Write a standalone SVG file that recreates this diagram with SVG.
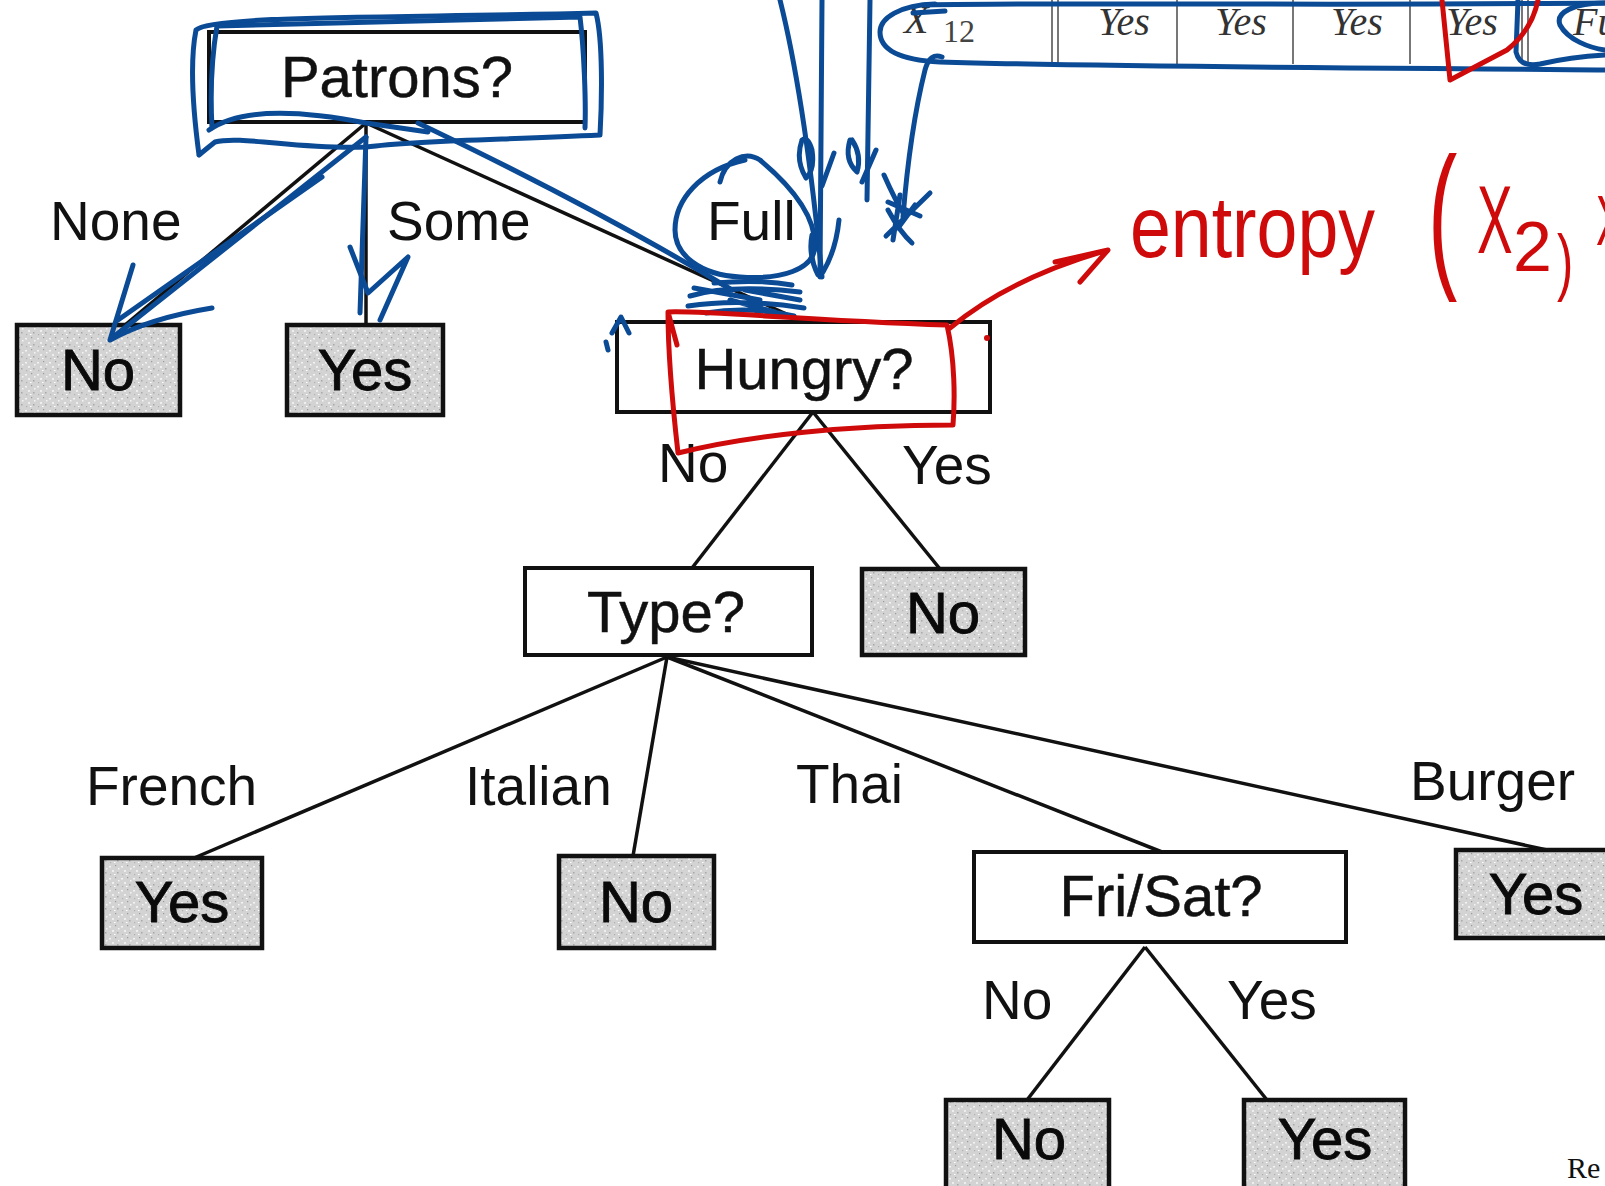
<svg xmlns="http://www.w3.org/2000/svg" width="1605" height="1186" viewBox="0 0 1605 1186">
<defs>
<pattern id="speckle" width="12" height="12" patternUnits="userSpaceOnUse">
<rect width="12" height="12" fill="#d3d3d3"/>
<rect x="1" y="2" width="2" height="1.5" fill="#f3f3f3"/>
<rect x="7" y="1" width="1.2" height="1.2" fill="#9a9a9a"/>
<rect x="4" y="6" width="2" height="2" fill="#eeeeee"/>
<rect x="9" y="8" width="1.5" height="1.5" fill="#a8a8a8"/>
<rect x="2" y="10" width="1.2" height="1.2" fill="#b0b0b0"/>
<rect x="10" y="4" width="1.5" height="1.5" fill="#f5f5f5"/>
<rect x="6" y="10" width="1.5" height="1" fill="#ffffff"/>
</pattern>
<style>
.box{fill:#fff;stroke:#111;stroke-width:4}
.leaf{fill:url(#speckle);stroke:#111;stroke-width:4.5}
.t{font-family:"Liberation Sans",Arial,sans-serif;font-size:58px;fill:#111;text-anchor:middle;stroke:#111;stroke-width:0.5}
.lt{font-family:"Liberation Sans",Arial,sans-serif;font-size:58px;fill:#0a0a0a;text-anchor:middle;stroke:#0a0a0a;stroke-width:0.9}
.lbl{font-family:"Liberation Sans",Arial,sans-serif;font-size:55px;fill:#111}
.edge{stroke:#111;stroke-width:3.5;fill:none}
.tl{stroke:#555;stroke-width:1.6}
.tbl{font-family:"Liberation Serif","Times New Roman",serif;font-style:italic;font-size:40px;fill:#333}
.blue{stroke:#0b4a95;stroke-width:5;fill:none;stroke-linecap:round;stroke-linejoin:round}
.red{stroke:#cf0a0a;stroke-width:5;fill:none;stroke-linecap:round;stroke-linejoin:round}
.hand{font-family:"Liberation Sans",Arial,sans-serif;fill:#cf0a0a}
</style>
</defs>
<rect width="1605" height="1186" fill="#fff"/>

<g id="table-row">
<line class="tl" x1="1052" y1="0" x2="1052" y2="64"/>
<line class="tl" x1="1058" y1="0" x2="1058" y2="64"/>
<line class="tl" x1="1177" y1="0" x2="1177" y2="64"/>
<line class="tl" x1="1293" y1="0" x2="1293" y2="64"/>
<line class="tl" x1="1410" y1="0" x2="1410" y2="64"/>
<line class="tl" x1="1522" y1="0" x2="1522" y2="64"/>
<line class="tl" x1="1528" y1="0" x2="1528" y2="64"/>
<text class="tbl" x="904" y="33" font-size="48">X</text>
<text x="943" y="42" font-family="Liberation Serif, Times New Roman, serif" font-size="32" fill="#444">12</text>
<text class="tbl" x="1098" y="35">Yes</text>
<text class="tbl" x="1215" y="35">Yes</text>
<text class="tbl" x="1331" y="35">Yes</text>
<text class="tbl" x="1446" y="35">Yes</text>
<text class="tbl" x="1573" y="35">Fu</text>
</g>

<g id="connectors">
<line class="edge" x1="366" y1="123" x2="125" y2="325"/>
<line class="edge" x1="366" y1="123" x2="366" y2="325"/>
<line class="edge" x1="366" y1="123" x2="804" y2="322"/>
<line class="edge" x1="813" y1="412" x2="692" y2="568"/>
<line class="edge" x1="813" y1="412" x2="940" y2="569"/>
<line class="edge" x1="667" y1="657" x2="194" y2="858"/>
<line class="edge" x1="667" y1="657" x2="633" y2="856"/>
<line class="edge" x1="667" y1="657" x2="1162" y2="852"/>
<line class="edge" x1="667" y1="657" x2="1547" y2="850"/>
<line class="edge" x1="1145" y1="947" x2="1027" y2="1100"/>
<line class="edge" x1="1145" y1="947" x2="1267" y2="1100"/>
<text class="lbl" x="50" y="240">None</text>
<text class="lbl" x="387" y="240">Some</text>
<text class="lbl" x="707" y="240">Full</text>
<text class="lbl" x="658" y="482">No</text>
<text class="lbl" x="902" y="484">Yes</text>
<text class="lbl" x="86" y="805">French</text>
<text class="lbl" x="465" y="805">Italian</text>
<text class="lbl" x="796" y="803">Thai</text>
<text class="lbl" x="1410" y="800">Burger</text>
<text class="lbl" x="982" y="1019">No</text>
<text class="lbl" x="1227" y="1019">Yes</text>
</g>

<g id="patrons"><rect class="box" x="209" y="32" width="376" height="90"/><text class="t" x="397" y="97">Patrons?</text></g>
<g id="leaf-none-no"><rect class="leaf" x="17" y="325" width="163" height="90"/><text class="lt" x="98" y="390">No</text></g>
<g id="leaf-some-yes"><rect class="leaf" x="287" y="325" width="156" height="90"/><text class="lt" x="365" y="390">Yes</text></g>
<g id="hungry"><rect class="box" x="617" y="322" width="373" height="90"/><text class="t" x="804" y="389">Hungry?</text></g>
<g id="type"><rect class="box" x="525" y="568" width="287" height="87"/><text class="t" x="666" y="632">Type?</text></g>
<g id="leaf-hungry-no"><rect class="leaf" x="862" y="569" width="163" height="86"/><text class="lt" x="943" y="633">No</text></g>
<g id="leaf-french-yes"><rect class="leaf" x="102" y="858" width="160" height="90"/><text class="lt" x="182" y="922">Yes</text></g>
<g id="leaf-italian-no"><rect class="leaf" x="559" y="856" width="155" height="92"/><text class="lt" x="636" y="922">No</text></g>
<g id="frisat"><rect class="box" x="974" y="852" width="372" height="90"/><text class="t" x="1161" y="916">Fri/Sat?</text></g>
<g id="leaf-burger-yes"><rect class="leaf" x="1456" y="850" width="175" height="88"/><text class="lt" x="1536" y="914">Yes</text></g>
<g id="leaf-frisat-no"><rect class="leaf" x="946" y="1100" width="163" height="110"/><text class="lt" x="1029" y="1159">No</text></g>
<g id="leaf-frisat-yes"><rect class="leaf" x="1244" y="1100" width="161" height="110"/><text class="lt" x="1325" y="1159">Yes</text></g>

<text x="1567" y="1178" font-family="Liberation Serif, Times New Roman, serif" font-size="30" fill="#111">Re</text>

<g id="blue-annotations">
<path class="blue" d="M199,155 C193,110 190,60 196,30 C210,15 400,18 596,13 C603,40 602,100 600,135 C500,140 420,140 366,147 C300,150 240,135 215,142 Q205,150 199,155"/>
<path class="blue" d="M212,128 C210,90 212,55 217,26 L580,17 C584,50 586,100 585,128"/>
<path class="blue" d="M209,130 C240,108 300,110 366,123 L428,132"/>
<path class="blue" d="M366,137 L112,338"/>
<path class="blue" d="M322,177 L118,320"/>
<path class="blue" d="M133,265 L110,340 Q150,318 212,308"/>
<path class="blue" d="M366,137 L360,313"/>
<path class="blue" d="M350,247 L368,293 L408,257 L380,320"/>
<path class="blue" d="M418,123 Q600,210 732,290"/>
<path class="blue" d="M720,182 C725,160 745,150 760,160 C790,185 815,215 815,245 C815,270 780,280 740,277 C700,275 675,255 675,230 C675,200 700,170 745,160"/>
<path class="blue" stroke-width="14" d="M690,296 Q730,284 800,292 M688,306 Q740,298 804,308 M706,313 Q750,306 794,316 M694,288 L760,300 M714,283 Q760,279 792,285 M730,300 L775,312 M745,290 L800,300"/>
<path class="blue" d="M780,0 Q805,100 822,277"/>
<path class="blue" d="M822,0 L820,277"/>
<path class="blue" d="M870,0 L867,200"/>
<path class="blue" d="M942,57 Q930,52 925,70 Q910,130 903,217"/>
<path class="blue" d="M802,140 Q795,160 806,178 Q815,170 812,150 Q808,136 802,140 M834,153 L822,186 M839,220 Q836,250 823,272 M812,235 Q808,255 818,275"/>
<path class="blue" d="M850,140 Q844,160 857,172 Q862,155 852,140 M876,150 L862,182"/>
<path class="blue" d="M884,175 Q895,200 905,216 M930,193 L886,236 M888,202 L920,216 M900,195 L893,240 M888,210 Q900,232 912,243 M915,205 L898,228"/>
<path class="blue" d="M913,13 L945,11"/>
<path class="blue" d="M935,4 C900,5 880,18 880,32 C880,50 900,60 940,62 C1100,67 1400,68 1605,70"/>
<path class="blue" d="M925,5 C1100,2 1300,6 1605,3"/>
<path class="blue" d="M1518,0 L1516,52 Q1520,68 1540,64 Q1570,57 1605,55"/>
<path class="blue" d="M1605,3 C1575,3 1555,12 1560,25 C1568,40 1590,48 1605,50"/>
<path class="blue" d="M612,333 L621,317 L629,333 M606,342 L608,350"/>
</g>

<g id="red-annotations">
<path class="red" d="M1442,0 L1450,80 L1507,50 Q1532,30 1538,0"/>
<path class="red" d="M668,312 C700,310 800,320 947,325 C955,360 955,400 953,425 C850,425 750,435 678,453 C672,400 668,350 668,312 L677,345"/>
<path class="red" d="M950,328 Q1010,278 1108,250 M1055,262 L1108,250 L1080,282"/>
<circle cx="987" cy="338" r="3" fill="#cf0a0a"/>
<text class="hand" x="1130" y="257" font-size="88" textLength="245" lengthAdjust="spacingAndGlyphs">entropy</text>
<text class="hand" transform="translate(1428,269) scale(0.55,1)" font-size="160">(</text>
<text class="hand" transform="translate(1477,253) scale(0.55,1)" font-size="97">X</text>
<text class="hand" x="1513" y="271" font-size="70">2</text>
<text class="hand" transform="translate(1557,287) scale(0.65,1)" font-size="75">)</text>
<text class="hand" transform="translate(1596,245) scale(0.6,1)" font-size="70">X</text>
</g>
</svg>
